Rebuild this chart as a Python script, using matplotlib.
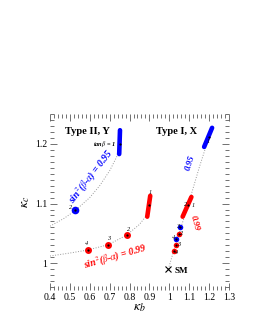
import numpy as np
import matplotlib
matplotlib.use("Agg")
import matplotlib.pyplot as plt
from matplotlib.ticker import MultipleLocator

plt.rcParams['font.family'] = ['Liberation Serif', 'DejaVu Serif']
plt.rcParams['mathtext.fontset'] = 'stix'

# %% data
# dotted guide curves
curve_II_95_x = [0.40, 0.47, 0.526, 0.60, 0.65, 0.70, 0.735, 0.75]
curve_II_95_y = [1.062, 1.075, 1.088, 1.110, 1.130, 1.155, 1.178, 1.20]
curve_II_99_x = [0.40, 0.50, 0.589, 0.693, 0.785, 0.85, 0.885, 0.897]
curve_II_99_y = [1.012, 1.017, 1.022, 1.031, 1.047, 1.065, 1.080, 1.098]
curve_I_x = [0.995, 1.022, 1.048, 1.095, 1.150, 1.199]
curve_I_y = [0.990, 1.021, 1.049, 1.098, 1.160, 1.211]

# elongated blobs (tanb = 1 regions), endpoints
blob_blue_II_x = [0.748, 0.752]
blob_blue_II_y = [1.183, 1.223]
blob_red_II_x = [0.889, 0.904]
blob_red_II_y = [1.078, 1.113]
blob_blue_I_x = [1.175, 1.215]
blob_blue_I_y = [1.195, 1.227]
blob_red_I_x = [1.067, 1.111]
blob_red_I_y = [1.078, 1.111]

# central points
blue_pts_x = [0.750, 0.526, 1.199, 1.053, 1.032]
blue_pts_y = [1.200, 1.089, 1.211, 1.060, 1.041]
red_pts_x = [0.897, 0.785, 0.693, 0.589, 1.095, 1.048, 1.032, 1.022]
red_pts_y = [1.098, 1.047, 1.031, 1.022, 1.098, 1.049, 1.031, 1.021]

# small labels next to points
pt_labels = ['2', '1', '2', '3', '4', '1', '2', '1', '3', '2', '4', '3', '4']
pt_label_x = [0.505, 0.905, 0.797, 0.693, 0.585, 1.196, 1.083, 1.120, 1.040, 1.063, 1.020, 1.049, 1.036]
pt_label_y = [1.093, 1.118, 1.056, 1.042, 1.033, 1.204, 1.098, 1.097, 1.062, 1.049, 1.043, 1.032, 1.018]

sm_x = [0.995]
sm_y = [0.990]

# %% plotting
fig = plt.figure(figsize=(2.55, 3.3), dpi=100)
ax = fig.add_axes([0.196, 0.1212, 0.702, 0.533])

ax.plot(curve_II_95_x, curve_II_95_y, ':', color='0.6', lw=0.7)
ax.plot(curve_II_99_x, curve_II_99_y, ':', color='0.6', lw=0.7)
ax.plot(curve_I_x, curve_I_y, ':', color='0.6', lw=0.7)

for bx, by, c in [(blob_blue_II_x, blob_blue_II_y, 'blue'),
                  (blob_red_II_x, blob_red_II_y, 'red'),
                  (blob_blue_I_x, blob_blue_I_y, 'blue'),
                  (blob_red_I_x, blob_red_I_y, 'red')]:
    ax.plot(bx, by, '-', color=c, lw=3.3, solid_capstyle='round')

ax.plot(blue_pts_x[1:2], blue_pts_y[1:2], 'o', color='blue', ms=5.5, mec='none')
ax.plot(blue_pts_x[3:], blue_pts_y[3:], 'o', color='blue', ms=4, mec='none')
ax.plot(red_pts_x[1:4], red_pts_y[1:4], 'o', color='red', ms=5, mec='none')
ax.plot(red_pts_x[5:], red_pts_y[5:], 'o', color='red', ms=4, mec='none')
ax.plot(blue_pts_x, blue_pts_y, 'o', color='black', ms=1.6, mec='none')
ax.plot(red_pts_x, red_pts_y, 'o', color='black', ms=1.6, mec='none')
ax.plot(sm_x, sm_y, 'x', color='black', ms=4, mew=0.8)

for t, x, y in zip(pt_labels, pt_label_x, pt_label_y):
    ax.text(x, y, t, fontsize=4.5, style='italic', ha='center', va='center')

ax.text(0.475, 1.221, 'Type II, Y', fontsize=7.5, weight='bold', ha='left', va='center')
ax.text(0.935, 1.221, 'Type I, X', fontsize=7.5, weight='bold', ha='left', va='center')
ax.text(0.728, 1.200, r'tan$\beta$ = 1', fontsize=4.5, style='italic', weight='bold',
        ha='right', va='center')
ax.text(0.607, 1.145, r'sin$^2$($\beta$-$\alpha$) = 0.95', fontsize=7, style='italic',
        weight='bold', color='blue', rotation=52, ha='center', va='center')
ax.text(1.104, 1.168, '0.95', fontsize=6.5, style='italic', weight='bold', color='blue',
        rotation=72, ha='center', va='center')
ax.text(0.731, 1.010, r'sin$^2$($\beta$-$\alpha$) = 0.99', fontsize=7, style='italic',
        weight='bold', color='red', rotation=16, ha='center', va='center')
ax.text(1.129, 1.068, '0.99', fontsize=6.5, style='italic', weight='bold', color='red',
        rotation=-75, ha='center', va='center')
ax.text(1.062, 0.987, 'SM', fontsize=6.5, weight='bold', ha='center', va='center')

ax.set_xlim(0.4, 1.3)
ax.set_ylim(0.955, 1.25)
ax.xaxis.set_minor_locator(MultipleLocator(0.02))
ax.yaxis.set_minor_locator(MultipleLocator(0.01))
ax.set_xticks(np.arange(0.4, 1.31, 0.1))
ax.set_xticklabels(['0.4', '0.5', '0.6', '0.7', '0.8', '0.9', '1', '1.1', '1.2', '1.3'])
ax.set_yticks([1.0, 1.1, 1.2])
ax.set_yticklabels(['1', '1.1', '1.2'])
ax.tick_params(which='both', direction='in', top=True, right=True, labelsize=7, pad=2,
               color='0.35', width=0.6)
ax.tick_params(which='major', length=5)
ax.tick_params(which='minor', length=3)
for s in ax.spines.values():
    s.set_visible(False)

ax.set_xlabel(r'$\kappa_b$', fontsize=10, labelpad=0)
ax.set_ylabel(r'$\kappa_c$', fontsize=10, labelpad=2)

fig.savefig('out.png', dpi=100)
